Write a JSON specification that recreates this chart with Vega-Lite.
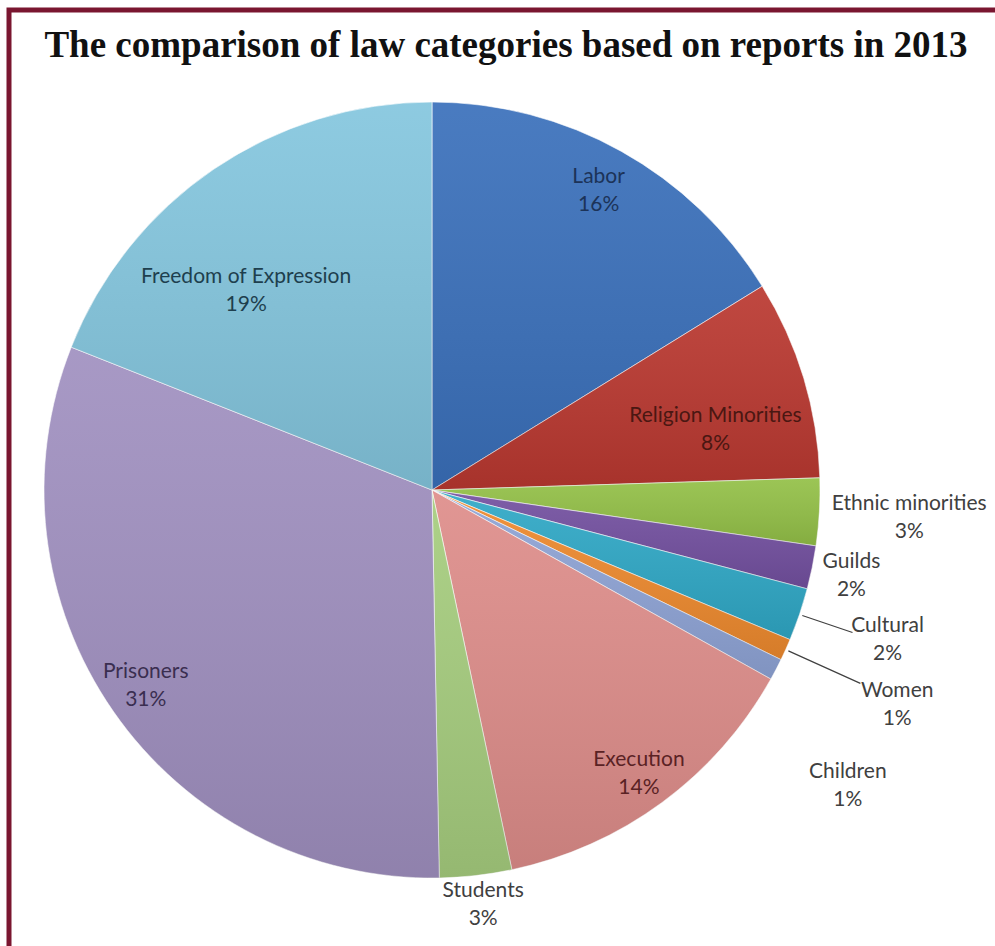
{
  "$schema": "https://vega.github.io/schema/vega-lite/v6.json",
  "autosize": {"type": "none"},
  "padding": {"left": 9, "top": 10, "right": 0, "bottom": 0},
  "width": 1000,
  "height": 945,
  "background": "white",
  "view": {"stroke": "#7A1630", "strokeWidth": 5},
  "config": {"view": {"stroke": "#7A1630", "strokeWidth": 5}, "style": {"cell": {"stroke": "#7A1630", "strokeWidth": 5}}},
  "title": {
    "text": "The comparison of law categories based on reports in 2013",
    "font": "Liberation Serif",
    "fontSize": 37,
    "fontWeight": "bold",
    "color": "#111111",
    "anchor": "middle",
    "baseline": "alphabetic",
    "offset": -52,
    "dy": 32,
    "dx": -3
  },
  "data": {
    "values": [
      {"idx": 1, "category": "Labor", "value": 16.2, "label": "Labor\n16%"},
      {"idx": 2, "category": "Religion Minorities", "value": 8.3, "label": "Religion Minorities\n8%"},
      {"idx": 3, "category": "Ethnic minorities", "value": 2.8, "label": "Ethnic minorities\n3%"},
      {"idx": 4, "category": "Guilds", "value": 1.8, "label": "Guilds\n2%"},
      {"idx": 5, "category": "Cultural", "value": 2.2, "label": "Cultural\n2%"},
      {"idx": 6, "category": "Women", "value": 0.9, "label": "Women\n1%"},
      {"idx": 7, "category": "Children", "value": 0.9, "label": "Children\n1%"},
      {"idx": 8, "category": "Execution", "value": 13.6, "label": "Execution\n14%"},
      {"idx": 9, "category": "Students", "value": 3.0, "label": "Students\n3%"},
      {"idx": 10, "category": "Prisoners", "value": 31.3, "label": "Prisoners\n31%"},
      {"idx": 11, "category": "Freedom of Expression", "value": 19.0, "label": "Freedom of Expression\n19%"}
    ]
  },
  "encoding": {
    "theta": {"field": "value", "type": "quantitative", "stack": true},
    "order": {"field": "idx", "type": "quantitative"}
  },
  "layer": [
    {
      "mark": {"type": "arc", "x": 423, "y": 480, "outerRadius": 388, "stroke": "white", "strokeWidth": 1, "strokeOpacity": 0.6},
      "encoding": {
        "color": {
          "field": "category",
          "type": "nominal",
          "legend": null,
          "scale": {
            "domain": ["Labor", "Religion Minorities", "Ethnic minorities", "Guilds", "Cultural", "Women", "Children", "Execution", "Students", "Prisoners", "Freedom of Expression"],
            "range": ["#3A70BB", "#BA3830", "#93C047", "#7350A0", "#2FA8C6", "#EE8A2E", "#8FA4D6", "#DE8D8A", "#A6CD7E", "#A090C0", "#84C6DE"]
          }
        }
      }
    },
    {
      "mark": {
        "type": "arc", "x": 423, "y": 480, "outerRadius": 388, "strokeWidth": 0,
        "fill": {
          "gradient": "linear", "x1": 0, "y1": 0, "x2": 0, "y2": 1,
          "stops": [
            {"offset": 0, "color": "rgba(255,255,255,0.08)"},
            {"offset": 1, "color": "rgba(0,0,0,0.1)"}
          ]
        }
      }
    },
    {
      "mark": {"type": "arc", "x": 423, "y": 480, "innerRadius": 391, "outerRadius": 444, "padAngle": 0.4, "fill": "transparent", "stroke": "#404040", "strokeWidth": 1.2},
      "encoding": {"strokeOpacity": {"condition": {"test": "datum.category === 'Cultural'", "value": 1}, "value": 0}}
    },
    {
      "mark": {"type": "arc", "x": 423, "y": 480, "innerRadius": 391, "outerRadius": 470, "padAngle": 0.4, "fill": "transparent", "stroke": "#404040", "strokeWidth": 1.2},
      "encoding": {"strokeOpacity": {"condition": {"test": "datum.category === 'Women'", "value": 1}, "value": 0}}
    },
    {
      "mark": {"type": "text", "x": 423, "y": 480, "radius": 342, "dy": -14, "font": "Lato", "fontSize": 21, "lineBreak": "\n", "lineHeight": 28, "align": "center", "baseline": "middle", "fill": "#1C3358"},
      "encoding": {"text": {"condition": {"test": "datum.category === 'Labor'", "field": "label"}, "value": ""}}
    },
    {
      "mark": {"type": "text", "x": 423, "y": 480, "radius": 296, "dy": 11, "font": "Lato", "fontSize": 21, "lineBreak": "\n", "lineHeight": 28, "align": "center", "baseline": "middle", "fill": "#4A1712"},
      "encoding": {"text": {"condition": {"test": "datum.category === 'Religion Minorities'", "field": "label"}, "value": ""}}
    },
    {
      "mark": {"type": "text", "x": 423, "y": 480, "radius": 478, "dy": -13, "font": "Lato", "fontSize": 21, "lineBreak": "\n", "lineHeight": 28, "align": "center", "baseline": "middle", "fill": "#404040"},
      "encoding": {"text": {"condition": {"test": "datum.category === 'Ethnic minorities'", "field": "label"}, "value": ""}}
    },
    {
      "mark": {"type": "text", "x": 423, "y": 480, "radius": 428, "dy": -13, "font": "Lato", "fontSize": 21, "lineBreak": "\n", "lineHeight": 28, "align": "center", "baseline": "middle", "fill": "#404040"},
      "encoding": {"text": {"condition": {"test": "datum.category === 'Guilds'", "field": "label"}, "value": ""}}
    },
    {
      "mark": {"type": "text", "x": 423, "y": 480, "radius": 481, "dy": -18, "font": "Lato", "fontSize": 21, "lineBreak": "\n", "lineHeight": 28, "align": "center", "baseline": "middle", "fill": "#404040"},
      "encoding": {"text": {"condition": {"test": "datum.category === 'Cultural'", "field": "label"}, "value": ""}}
    },
    {
      "mark": {"type": "text", "x": 423, "y": 480, "radius": 506, "dx": 4, "dy": -7, "font": "Lato", "fontSize": 21, "lineBreak": "\n", "lineHeight": 28, "align": "center", "baseline": "middle", "fill": "#404040"},
      "encoding": {"text": {"condition": {"test": "datum.category === 'Women'", "field": "label"}, "value": ""}}
    },
    {
      "mark": {"type": "text", "x": 423, "y": 480, "radius": 469, "dy": 65, "font": "Lato", "fontSize": 21, "lineBreak": "\n", "lineHeight": 28, "align": "center", "baseline": "middle", "fill": "#404040"},
      "encoding": {"text": {"condition": {"test": "datum.category === 'Children'", "field": "label"}, "value": ""}}
    },
    {
      "mark": {"type": "text", "x": 423, "y": 480, "radius": 349, "dy": -11, "font": "Lato", "fontSize": 21, "lineBreak": "\n", "lineHeight": 28, "align": "center", "baseline": "middle", "fill": "#5A2224"},
      "encoding": {"text": {"condition": {"test": "datum.category === 'Execution'", "field": "label"}, "value": ""}}
    },
    {
      "mark": {"type": "text", "x": 423, "y": 480, "radius": 418, "dx": 4, "dy": -14, "font": "Lato", "fontSize": 21, "lineBreak": "\n", "lineHeight": 28, "align": "center", "baseline": "middle", "fill": "#404040"},
      "encoding": {"text": {"condition": {"test": "datum.category === 'Students'", "field": "label"}, "value": ""}}
    },
    {
      "mark": {"type": "text", "x": 423, "y": 480, "radius": 352, "dx": 3, "dy": -19, "font": "Lato", "fontSize": 21, "lineBreak": "\n", "lineHeight": 28, "align": "center", "baseline": "middle", "fill": "#3A2E50"},
      "encoding": {"text": {"condition": {"test": "datum.category === 'Prisoners'", "field": "label"}, "value": ""}}
    },
    {
      "mark": {"type": "text", "x": 423, "y": 480, "radius": 272, "dx": -33, "dy": 12, "font": "Lato", "fontSize": 21, "lineBreak": "\n", "lineHeight": 28, "align": "center", "baseline": "middle", "fill": "#1E3F4E"},
      "encoding": {"text": {"condition": {"test": "datum.category === 'Freedom of Expression'", "field": "label"}, "value": ""}}
    }
  ]
}
